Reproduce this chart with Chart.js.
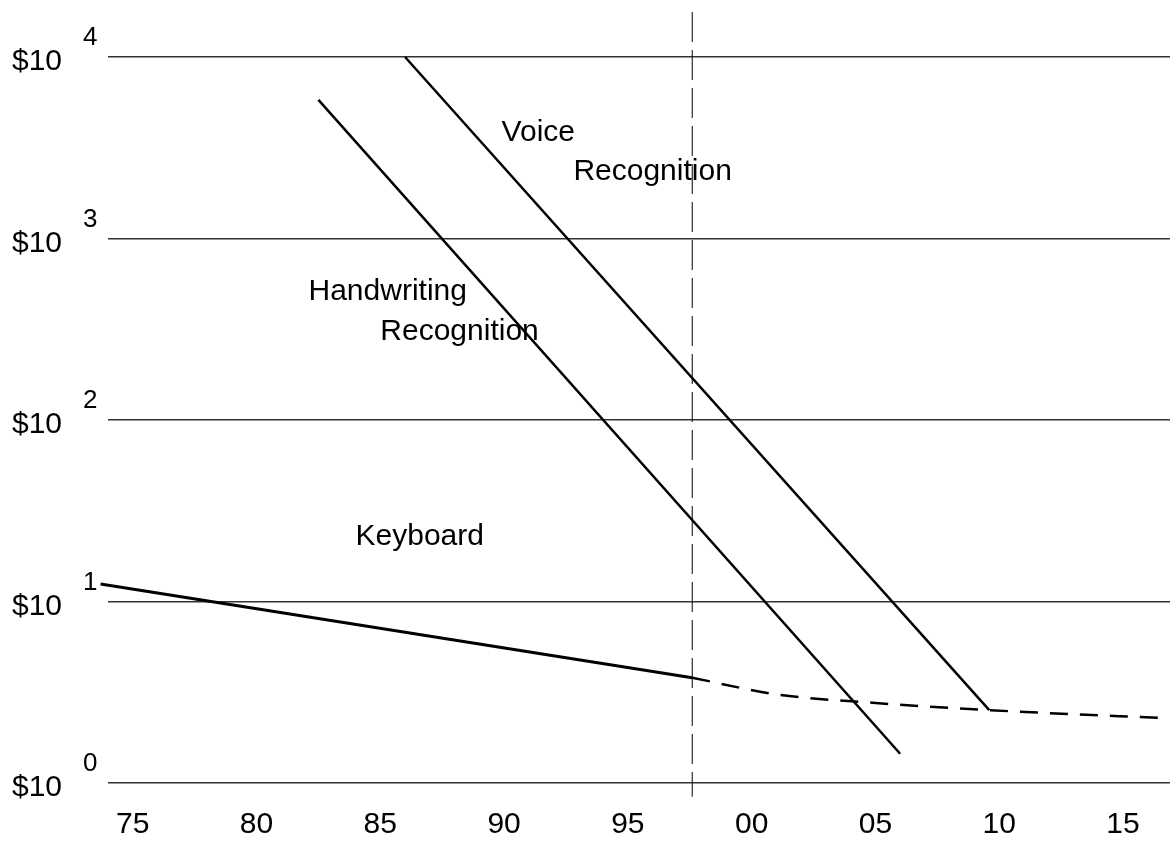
<!DOCTYPE html>
<html>
<head>
<meta charset="utf-8">
<script src="https://cdn.jsdelivr.net/npm/chart.js@4/dist/chart.umd.min.js"></script>
<style>
  html, body { margin: 0; padding: 0; background: #fff; }
  #wrap { width: 1170px; height: 842px; position: relative; }
</style>
</head>
<body>
<div id="wrap"><canvas id="chart-cost"></canvas></div>
<script>
// x ticks (years) and y decades
var tickYears = [1975, 1980, 1985, 1990, 1995, 2000, 2005, 2010, 2015];
var decades = [0, 1, 2, 3, 4];

// series
var voiceYears = [1986.0, 2009.6];
var voiceCost = [10000, 2.52];

var handYears = [1982.5, 2006.0];
var handCost = [5800, 1.45];

var keyYears = [1973.7, 1997.6];
var keyCost = [12.5, 3.8];

var keyFutureYears = [1997.6, 2001.0, 2005.0, 2009.6, 2016.6];
var keyFutureCost = [3.8, 3.08, 2.76, 2.52, 2.28];

// the "today" marker
var nowYear = [1997.6, 1997.6];
var nowCost = [17700, 0.84];

var notes = [
    { text: "Voice", year: 1989.9, cost: Math.pow(10, 3.58) },
    { text: "Recognition", year: 1992.8, cost: Math.pow(10, 3.37) },
    { text: "Handwriting", year: 1982.1, cost: Math.pow(10, 2.705) },
    { text: "Recognition", year: 1985.0, cost: Math.pow(10, 2.485) },
    { text: "Keyboard", year: 1984.0, cost: Math.pow(10, 1.355) }
];

var FONT = "'Liberation Sans', Arial, sans-serif";

function pts(xs, ys) {
    return xs.map(function (x, i) { return { x: x, y: ys[i] }; });
}

function lineSet(data, width, dash) {
    return {
        data: data,
        borderColor: "#000",
        borderWidth: width,
        borderDash: dash || [],
        pointRadius: 0,
        fill: false,
        clip: false,
        tension: 0
    };
}

var textPlugin = {
    id: "texts",
    afterDraw: function (chart) {
        var ctx = chart.ctx;
        var xs = chart.scales.x;
        var ys = chart.scales.y;
        ctx.save();
        ctx.fillStyle = "#000";
        ctx.textBaseline = "middle";
        ctx.textAlign = "left";
        decades.forEach(function (e) {
            var y = ys.getPixelForValue(Math.pow(10, e));
            ctx.font = "30px " + FONT;
            ctx.fillText("$10", 12, y + 5);
            ctx.font = "26px " + FONT;
            ctx.fillText(String(e), 83, y - 19);
        });
        ctx.font = "30px " + FONT;
        notes.forEach(function (n) {
            ctx.fillText(n.text, xs.getPixelForValue(n.year), ys.getPixelForValue(n.cost));
        });
        ctx.restore();
    }
};

var keyFuture = lineSet(pts(keyFutureYears, keyFutureCost), 2.5, [18, 12]);
keyFuture.cubicInterpolationMode = "monotone";

var chart = new Chart(document.getElementById("chart-cost").getContext("2d"), {
    type: "line",
    data: {
        datasets: [
            lineSet(pts(nowYear, nowCost), 1, [30, 8]),
            lineSet(pts(voiceYears, voiceCost), 2.5),
            lineSet(pts(handYears, handCost), 2.5),
            lineSet(pts(keyYears, keyCost), 3),
            keyFuture
        ]
    },
    options: {
        responsive: true,
        maintainAspectRatio: false,
        animation: false,
        layout: { padding: { left: 108, right: 0, top: 57, bottom: 1 } },
        plugins: {
            legend: { display: false },
            tooltip: { enabled: false }
        },
        scales: {
            x: {
                type: "linear",
                min: 1974,
                max: 2016.9,
                afterBuildTicks: function (axis) {
                    axis.ticks = tickYears.map(function (v) { return { value: v }; });
                },
                afterFit: function (axis) { axis.height = 58; },
                grid: { display: false, drawTicks: false },
                border: { display: false },
                ticks: {
                    padding: 24,
                    color: "#000",
                    maxRotation: 0,
                    autoSkip: false,
                    font: { size: 30, family: FONT },
                    callback: function (v) { return String(v).slice(2); }
                }
            },
            y: {
                type: "logarithmic",
                min: 1,
                max: 10000,
                afterBuildTicks: function (axis) {
                    axis.ticks = decades.map(function (e) { return { value: Math.pow(10, e) }; });
                },
                grid: { color: "#333", lineWidth: 1.5, drawTicks: false },
                border: { display: false },
                ticks: { display: false }
            }
        }
    },
    plugins: [textPlugin]
});
</script>
</body>
</html>
